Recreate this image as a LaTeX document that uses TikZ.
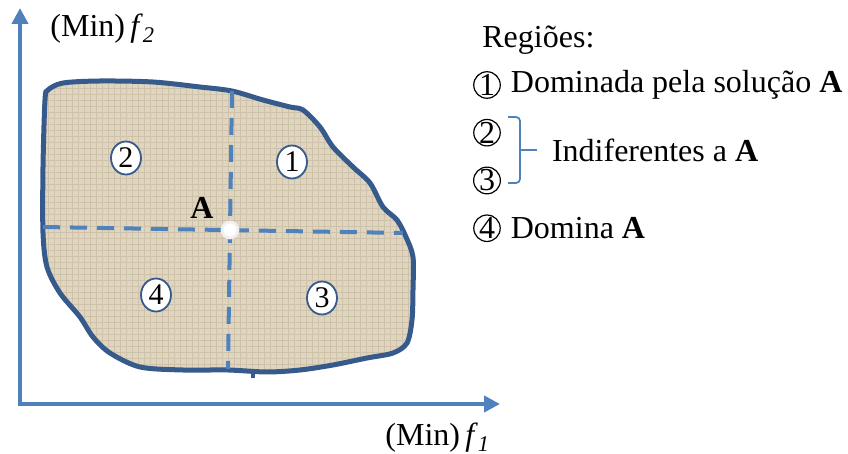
\documentclass[tikz,border=0pt]{standalone}
\usepackage{fontspec}
\setmainfont{Liberation Serif}
\usetikzlibrary{positioning, arrows.meta, patterns, shapes.geometric}
\definecolor{axisblue}{RGB}{79,129,189}
\definecolor{edgeblue}{RGB}{55,90,140}
\definecolor{sand}{RGB}{224,213,191}
\definecolor{sanddark}{RGB}{206,194,170}
\tikzstyle{axis}=[axisblue, line width=2pt, line join=miter, {Triangle[length=8pt,width=8pt]}-{Triangle[length=8pt,width=8pt]}]
\tikzstyle{cut}=[axisblue, line width=2pt, dash pattern=on 8.5pt off 5pt]
\tikzstyle{reg}=[ellipse, draw=edgeblue, fill=white, line width=0.9pt, minimum width=15pt, minimum height=16.5pt, inner sep=0pt, font=\fontsize{15}{15}\selectfont]
\tikzstyle{num}=[circle, draw, line width=0.6pt, minimum size=13pt, inner sep=0pt]

\begin{document}
\begin{tikzpicture}[x=0.5pt, y=-0.5pt, font=\fontsize{16}{19}\selectfont]
    \useasboundingbox (0,0) rectangle (848,454);

    % feasible region
    \draw[edgeblue, line width=2.5pt, preaction={fill=sand}, preaction={pattern=grid, pattern color=sanddark}]
        plot[smooth cycle, tension=0.5] coordinates {
        (48,90) (63,83) (100,81) (153,82) (200,87) (232,91) (263,100) (290,107) (303,110)
        (320,127) (333,147) (353,167) (370,183) (383,207) (397,220) (406,237) (413,257)
        (413,290) (412,320) (407,343) (393,353) (367,358) (333,365) (300,370) (267,372)
        (228,370) (183,370) (140,367) (110,353) (93,337) (80,317) (60,293) (47,267)
        (43,233) (43,167) (45,100)};
    \draw[edgeblue, line width=1.6pt] (253,371) -- (253,378);

    % axes
    \coordinate (O) at (20,404);
    \coordinate (ytop) at (20,8);
    \coordinate (xend) at (500,404);
    \draw[axis] (ytop) -- (O) -- (xend);
    \node[anchor=base west, inner sep=0pt] (f2) at (50,37) {(Min)\,\textit{f}\textsubscript{\textit{2}}};
    \node[anchor=base west, inner sep=0pt] (f1) at (385,446) {(Min)\,\textit{f}\textsubscript{\textit{1}}};

    % solution A and the cuts through it
    \coordinate (vt) at (232,91);
    \coordinate (vb) at (228,369);
    \coordinate (hl) at (43,227);
    \coordinate (hr) at (403,233);
    \draw[cut] (vt) -- (vb);
    \draw[cut] (hl) -- (hr);
    \node[circle, fill=white, draw=gray!12, line width=1.4pt, minimum size=8pt, inner sep=0pt] (A) at (230,230) {};
    \node[font=\fontsize{16}{19}\selectfont\bfseries] (lA) at (202,208) {A};

    \node[reg] (r2) at (126,158) {2};
    \node[reg] (r1) at (292,162) {1};
    \node[reg] (r4) at (156,295) {4};
    \node[reg] (r3) at (322,298) {3};

    % legend
    \node[anchor=base west, inner sep=0pt] (tit) at (482,48) {Regiões:};
    \node[num] (n1) at (487,85) {1};
    \node[num, below=10pt of n1] (n2) {2};
    \node[num, below=10pt of n2] (n3) {3};
    \node[num, below=10pt of n3] (n4) {4};
    \node[right=1.5pt of n1] (t1) {Dominada pela solução \textbf{A}};
    \node[right=1.5pt of n4] (t4) {Domina \textbf{A}};
    \coordinate (tip) at (537,150);
    \draw[axisblue, line width=0.9pt, rounded corners=2pt] (508,117) -- (520,117) -- (520,183) -- (508,183);
    \draw[axisblue, line width=0.9pt] (520,150) -- (tip);
    \node[right=4pt of tip] (t23) {Indiferentes a \textbf{A}};
\end{tikzpicture}
\end{document}
